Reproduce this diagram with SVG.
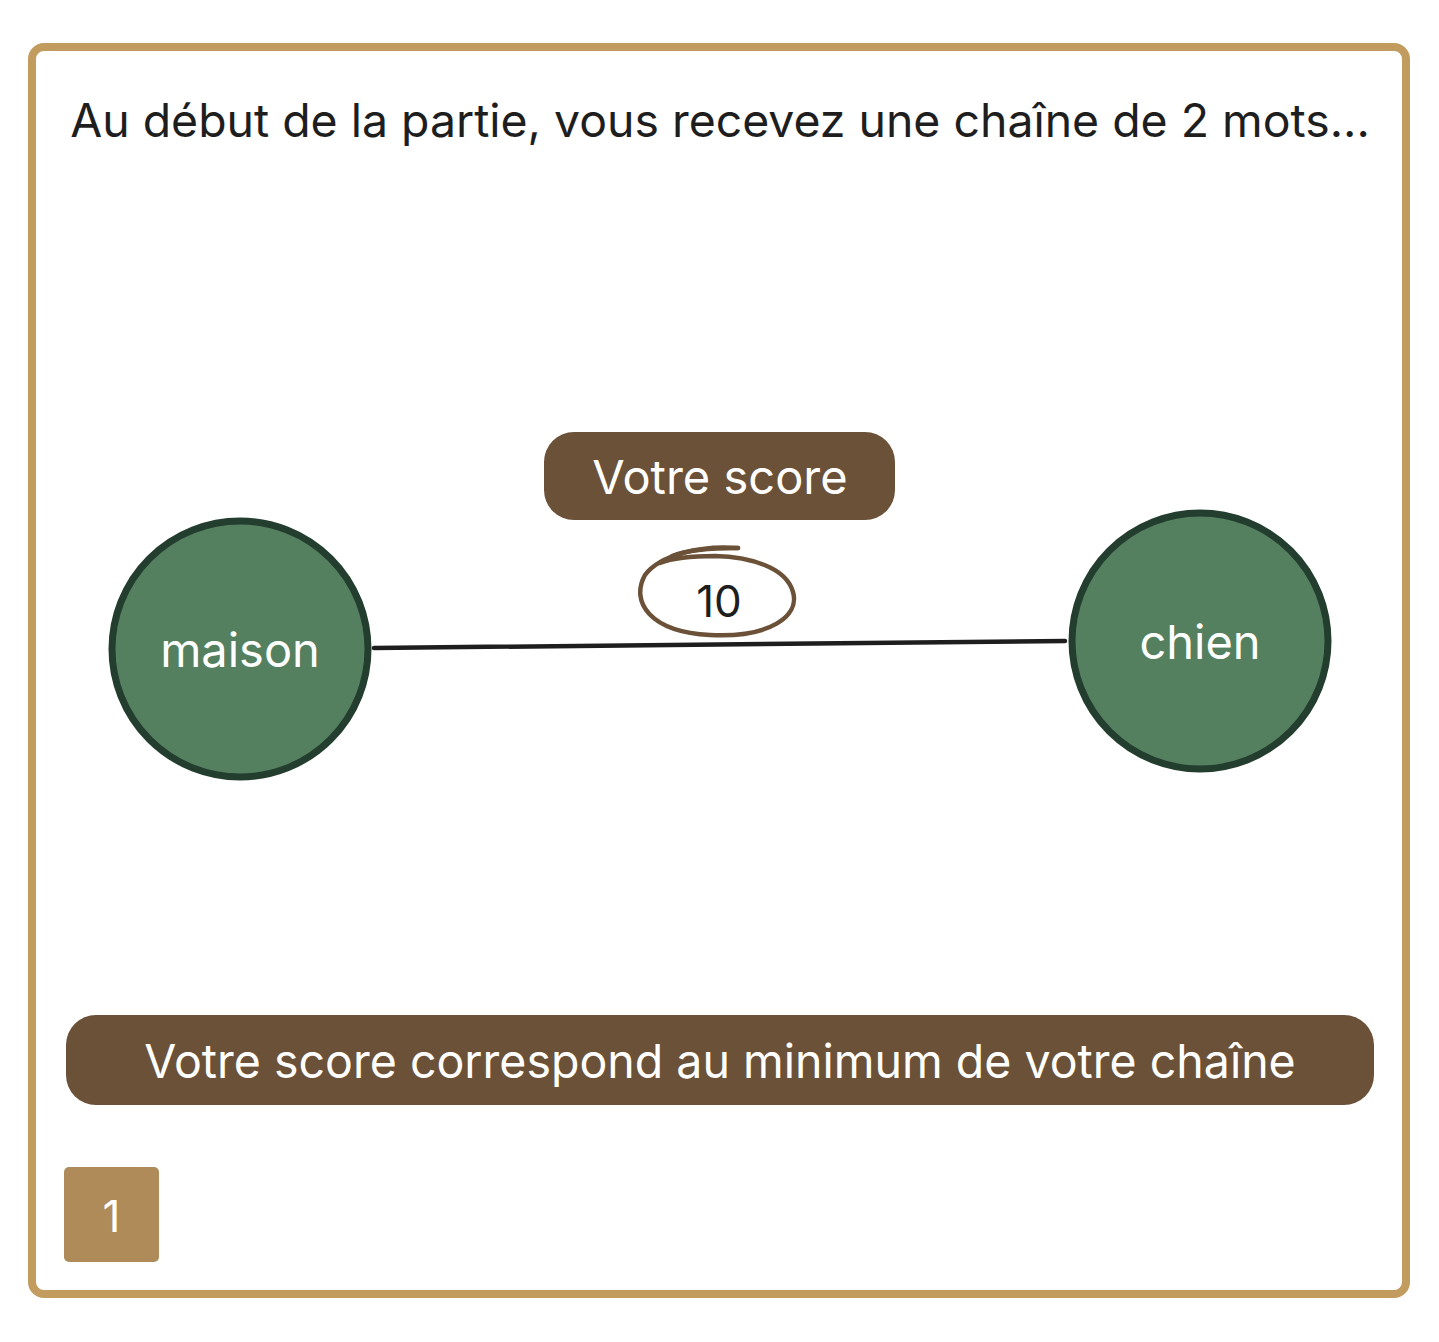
<svg xmlns="http://www.w3.org/2000/svg" width="1439" height="1342" viewBox="0 0 1439 1342">
<style>
.t{font-family:Inter,"Noto Sans","Liberation Sans",sans-serif}
.node circle{fill:#548060;stroke:#233d2e;stroke-width:7}
.node text{fill:#fff;font-size:47px;text-anchor:middle}
.pill rect{fill:#6b5138}
.pill text{fill:#fff;font-size:46.5px;text-anchor:middle}
</style>
<rect x="0" y="0" width="1439" height="1342" fill="#fff"/>
<rect id="frame" x="32" y="47" width="1374" height="1247" rx="12" fill="#fff" stroke="#c29b5e" stroke-width="8"/>
<text id="title" class="t" x="720" y="137" font-size="46.4" fill="#1e1e1e" text-anchor="middle">Au début de la partie, vous recevez une chaîne de 2 mots...</text>
<g id="connectors">
<path d="M374 648 L1065 641" stroke="#1e1e1e" stroke-width="4.5" fill="none" stroke-linecap="round"/>
</g>
<g id="score-label" class="pill">
<rect x="544" y="432" width="351" height="88" rx="30"/>
<text class="t" x="720" y="494" style="font-size:47px">Votre score</text>
</g>
<g id="edge-value">
<path d="M738 548 C700 545 660 555 645 575 C630 602 650 632 710 635 C770 638 800 616 793 592 C786 567 750 557 715 556 C690 556 670 559 660 563" fill="none" stroke="#6b5138" stroke-width="4.5" stroke-linecap="round"/>
<path d="M738 548 C715 548 690 549 672 556" fill="none" stroke="#6b5138" stroke-width="4.5" stroke-linecap="round"/>
<text class="t" x="719" y="617" font-size="44" fill="#1e1e1e" text-anchor="middle">10</text>
</g>
<g id="node-maison" class="node">
<circle cx="240" cy="649" r="128"/>
<text class="t" x="240" y="667">maison</text>
</g>
<g id="node-chien" class="node">
<circle cx="1200" cy="641" r="128"/>
<text class="t" x="1200" y="659">chien</text>
</g>
<g id="summary" class="pill">
<rect x="66" y="1015" width="1308" height="90" rx="30"/>
<text class="t" x="720" y="1078">Votre score correspond au minimum de votre chaîne</text>
</g>
<g id="step">
<rect x="64" y="1167" width="95" height="95" rx="5" fill="#b08b5a"/>
<text class="t" x="111.5" y="1232" font-size="44" fill="#fff" text-anchor="middle">1</text>
</g>
</svg>
